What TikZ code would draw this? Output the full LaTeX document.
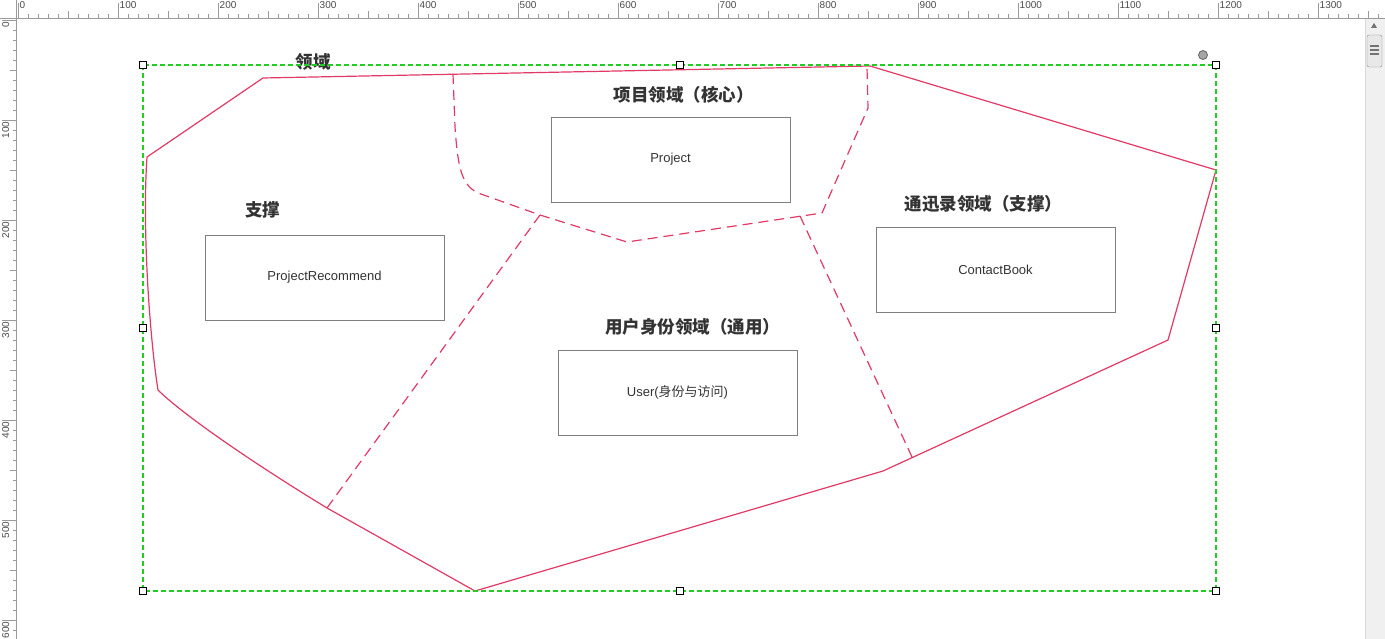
\documentclass[tikz,border=0pt]{standalone}
\usepackage{fontspec}
\setmainfont{Liberation Sans}
\newfontfamily\cjk{Noto Sans CJK SC}
\usetikzlibrary{positioning}
\definecolor{domred}{HTML}{E23A66}
\definecolor{selgreen}{HTML}{22CC22}
\definecolor{boxgray}{HTML}{7F7F7F}
\definecolor{txtgray}{HTML}{333333}
\definecolor{rulgray}{HTML}{9A9A9A}
\tikzset{
  ctx/.style={draw=boxgray, line width=0.9pt, minimum width=239pt, minimum height=85pt,
    inner sep=0pt, text=txtgray, font=\fontsize{13}{15}\selectfont},
  domtitle/.style={inner sep=0pt, text=txtgray, font=\fontsize{17.5}{20}\selectfont\cjk\bfseries},
  bound/.style={draw=domred, line width=1.2pt, line join=round},
  split/.style={bound, dash pattern=on 10pt off 6pt},
  handle/.style={draw=black, fill=white, line width=0.9pt, minimum size=7pt, inner sep=0pt},
  rulertick/.style={draw=rulgray, line width=0.7pt},
  rulerlbl/.style={inner sep=0pt, text=black!70, font=\fontsize{10}{11}\selectfont}
}
\begin{document}
\begin{tikzpicture}[x=1pt, y=-1pt]
      \useasboundingbox (0,0) rectangle (1385,639);
      \fill[white] (0,0) rectangle (1385,639);
      % Rulers
      \draw[rulertick] (0,18.5) -- (1385,18.5);
      \draw[rulertick] (16.5,0) -- (16.5,639);
      \foreach \v in {0,10,...,1360}{
        \pgfmathsetmacro\tl{ifthenelse(mod(\v,100)==0,15,ifthenelse(mod(\v,50)==0,7,4))}
        \draw[rulertick] (18+\v,18.5) -- ++(0,-\tl);
      }
      \foreach \v in {0,100,...,1300}
        \node[rulerlbl, anchor=north west] at (19.5+\v,1.5) {\v};
      \foreach \v in {0,10,...,610}{
        \pgfmathsetmacro\tl{ifthenelse(mod(\v,100)==0,15,ifthenelse(mod(\v,50)==0,7,4))}
        \draw[rulertick] (16.5,20+\v) -- ++(-\tl,0);
      }
      \foreach \v in {0,100,...,600}
        \node[rulerlbl, rotate=90, anchor=north east] at (2,21.5+\v) {\v};
      % Scroll bar
      \fill[black!6] (1365,19) rectangle (1385,639);
      \draw[black!15] (1365,19) -- (1365,639);
      \fill[black!55] (1371,28) -- (1377,28) -- (1374,23) -- cycle;
      \draw[black!45, fill=black!9, rounded corners=2pt] (1367,35) rectangle (1382,67);
      \foreach \g in {46,50,54}
        \draw[black!55, line width=1.2pt] (1370,\g) -- (1379,\g);
      % Domain boundary
      \coordinate (pA) at (263,78);
      \coordinate (pB) at (870,66);
      \coordinate (pC) at (1216,170);
      \coordinate (pD) at (1168,340);
      \coordinate (pE) at (883,471);
      \coordinate (pF) at (475,591);
      \coordinate (pG) at (327,508);
      \coordinate (pH) at (158,390);
      \coordinate (pI) at (147,157);
      \draw[bound] (pI) -- (pA) -- (pB) -- (pC) -- (pD) -- (pE) -- (pF) -- (pG)
        .. controls (245,458) and (180,412) .. (pH)
        .. controls (150,340) and (142,230) .. (pI);
      % Sub-domain borders
      \coordinate (qA) at (453,74);
      \coordinate (qB) at (540,215);
      \coordinate (qC) at (627,242);
      \coordinate (qD) at (822,213);
      \coordinate (qE) at (867,67);
      \coordinate (qF) at (800,216);
      \coordinate (qG) at (912,457);
      \draw[split] (qA) -- (455,127) .. controls (458,170) and (462,185) .. (478,193)
        -- (qB) -- (qC) -- (qD) -- (868,108) -- (qE);
      \draw[split] (qB) -- (pG);
      \draw[split] (qF) -- (qG);
      % Define nodes
      \node[ctx] (prj) at (670.5,159.5) {Project};
      \node[ctx] (rec) at (324.5,277.5) {ProjectRecommend};
      \node[ctx] (cbk) at (995.5,269.5) {ContactBook};
      \node[ctx] (usr) at (677.5,392.5) {User({\cjk 身份与访问})};
      \node[domtitle, above=13pt of prj, xshift=13pt] (prjT) {项目领域（核心）};
      \node[domtitle, above=16pt of rec, xshift=-62pt] (recT) {支撑};
      \node[domtitle, above=14pt of cbk, xshift=-12pt] (cbkT) {通迅录领域（支撑）};
      \node[domtitle, above=14pt of usr, xshift=15pt] (usrT) {用户身份领域（通用）};
      \node[domtitle] (domT) at (313,62) {领域};
      % Selection frame
      \draw[selgreen, line width=1.2pt, dash pattern=on 5pt off 3pt] (143,65) rectangle (1216,591);
      \foreach \hx/\hy in {143/65,680/65,1216/65,143/328,1216/328,143/591,680/591,1216/591}
        \node[handle] at (\hx,\hy) {};
      \draw[black!60, fill=black!35, line width=0.8pt] (1203,55) circle (4.5pt);
    \end{tikzpicture}
\end{document}
